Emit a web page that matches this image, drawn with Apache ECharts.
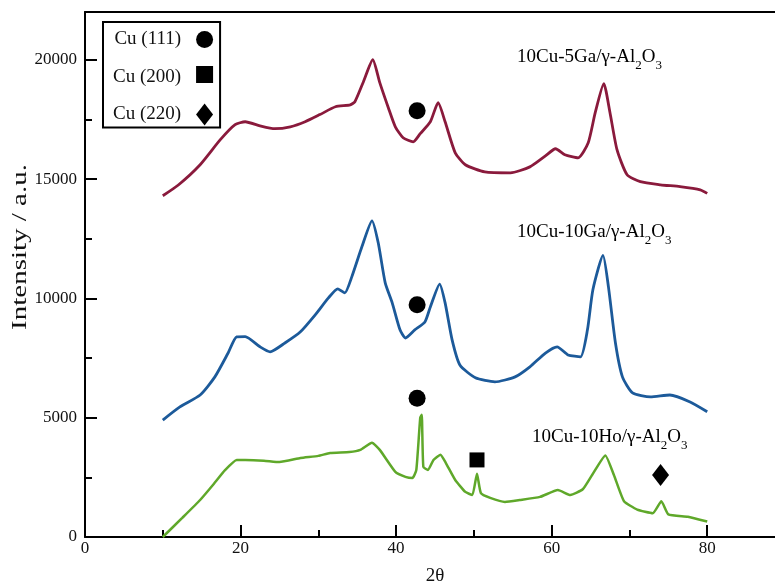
<!DOCTYPE html>
<html><head><meta charset="utf-8">
<script src="https://cdn.jsdelivr.net/npm/echarts@6/dist/echarts.min.js"></script>
<style>html,body{margin:0;padding:0;background:#fff}#c{width:775px;height:581px}</style>
</head><body><div id="c"></div><script>
// ---- data ----
const seriesNames = ['10Cu-5Ga/γ-Al2O3', '10Cu-10Ga/γ-Al2O3', '10Cu-10Ho/γ-Al2O3'];
const seriesColors = ['#8a1a3c', '#1c5a9a', '#5fa82a'];

const ga5X = [10, 12, 14.8, 17.4, 19.3, 20.6, 22.5, 24.4, 26.4, 28.3, 30.2, 32.2, 34.1, 34.7, 35.8, 37.0, 37.9, 39.0, 39.9, 40.9, 42.2, 43.1, 44.4, 45.4, 46.3, 47.6, 48.9, 51.4, 54.7, 57.2, 59.2, 60.5, 61.7, 63.4, 64.7, 65.6, 66.7, 67.5, 68.4, 69.7, 71.4, 74.0, 76.5, 79.1, 80];
const ga5Y = [14300, 14750, 15600, 16650, 17280, 17400, 17230, 17110, 17190, 17400, 17700, 18030, 18110, 18240, 19080, 20000, 19040, 17990, 17190, 16730, 16560, 16900, 17400, 18200, 17400, 16100, 15600, 15300, 15260, 15510, 15970, 16270, 16020, 15890, 16520, 17780, 19000, 17780, 16230, 15180, 14890, 14760, 14680, 14550, 14400];

const ga10X = [10, 12.2, 14.8, 16.7, 18.4, 19.5, 20.6, 22.5, 23.8, 25.7, 27.7, 29.6, 31.3, 32.5, 33.4, 34.3, 35.6, 36.9, 37.7, 38.6, 39.5, 40.5, 41.2, 42.4, 43.7, 44.4, 45.6, 46.3, 47.2, 48.2, 50.2, 52.7, 55.3, 57.2, 59.2, 60.7, 62.1, 63.7, 64.6, 65.3, 66.6, 67.3, 68.2, 69.1, 70.4, 72.7, 75.2, 77.8, 80];
const ga10Y = [4900, 5450, 5950, 6710, 7710, 8390, 8400, 7970, 7760, 8130, 8600, 9310, 10020, 10400, 10230, 10900, 12160, 13250, 12330, 10650, 9810, 8680, 8340, 8680, 9010, 9640, 10600, 9810, 8260, 7210, 6670, 6500, 6710, 7130, 7710, 7970, 7630, 7550, 8680, 10360, 11800, 10480, 8130, 6710, 6040, 5870, 5950, 5660, 5250];

const ho10X = [10, 12.5, 14.8, 16.5, 18, 19.5, 20.6, 23, 25, 27.7, 30, 31.5, 34, 35.4, 36.9, 37.9, 39.9, 41.2, 42.1, 42.6, 43.1, 43.3, 43.5, 44.1, 44.8, 45.7, 46.4, 47.6, 48.9, 49.8, 50.4, 50.9, 52.1, 54.0, 55.9, 58.5, 60.8, 62.4, 64, 65.2, 66.9, 68, 69.3, 71, 73, 74.1, 75, 77.5, 80];
const ho10Y = [0, 800, 1550, 2200, 2800, 3230, 3230, 3200, 3140, 3310, 3400, 3520, 3560, 3650, 3950, 3650, 2730, 2520, 2470, 2810, 4990, 5120, 2940, 2810, 3230, 3450, 3100, 2390, 1890, 1760, 2650, 1840, 1640, 1470, 1550, 1680, 1970, 1760, 2000, 2600, 3420, 2600, 1500, 1150, 1000, 1500, 950, 850, 650];

const markerNames = ['Cu (111)', 'Cu (200)', 'Cu (220)'];
const cu111Pts = [[42.7, 17860], [42.7, 9730], [42.7, 5815]];
const cu200Pts = [[50.4, 3230]];
const cu220Pts = [[74.0, 2600]];

const xTickLabels = [0, 20, 40, 60, 80];
const yTickLabels = [0, 5000, 10000, 15000, 20000];

// ---- chart ----
const FONT = "'Liberation Serif', 'DejaVu Serif', serif";
const zip = (xs, ys) => xs.map((x, i) => [x, ys[i]]);
const chart = echarts.init(document.getElementById('c'), null, {renderer: 'canvas'});

const axisLine = {show: true, lineStyle: {color: '#000', width: 2}};
const sub = (main) => ({
  a: {fontFamily: FONT, fontSize: 19, lineHeight: 24, verticalAlign: 'top', color: main},
  s: {fontFamily: FONT, fontSize: 13, lineHeight: 10, verticalAlign: 'bottom', color: main}
});
function richName(n) {
  const base = n.replace('Al2O3', '');
  return '{a|' + base + 'Al}{s|2}{a|O}{s|3}';
}

const option = {
  animation: false,
  backgroundColor: '#fff',
  grid: {left: 85, right: -10, top: 12, bottom: 44, containLabel: false, outerBoundsMode: 'none'},
  xAxis: [
    {type: 'value', min: 0, max: 90, interval: 20, position: 'bottom',
     axisLine, splitLine: {show: false},
     axisTick: {show: true, inside: true, length: 12, lineStyle: {color: '#000', width: 2}},
     axisLabel: {margin: 3, color: '#111', fontFamily: FONT, fontSize: 17,
       formatter: v => xTickLabels.includes(v) ? String(v) : ''},
     name: '2θ', nameLocation: 'middle', nameGap: 30,
     nameTextStyle: {fontFamily: FONT, fontSize: 19, color: '#111'}},
    {type: 'value', min: 0, max: 90, interval: 10, position: 'bottom',
     axisLine: {show: false}, splitLine: {show: false}, axisLabel: {show: false},
     axisTick: {show: true, inside: true, length: 7, lineStyle: {color: '#000', width: 2}}},
    {type: 'value', min: 0, max: 90, position: 'top',
     axisLine, splitLine: {show: false}, axisLabel: {show: false}, axisTick: {show: false}}
  ],
  yAxis: [
    {type: 'value', min: 0, max: 22000, interval: 5000, position: 'left',
     axisLine, splitLine: {show: false},
     axisTick: {show: true, inside: true, length: 12, lineStyle: {color: '#000', width: 2}},
     axisLabel: {margin: 8, color: '#111', fontFamily: FONT, fontSize: 17,
       formatter: v => yTickLabels.includes(v) ? String(v) : ''}},
    {type: 'value', min: 0, max: 22000, interval: 2500, position: 'left',
     axisLine: {show: false}, splitLine: {show: false}, axisLabel: {show: false},
     axisTick: {show: true, inside: true, length: 7, lineStyle: {color: '#000', width: 2}}}
  ],
  legend: {
    data: [
      {name: markerNames[0], icon: 'circle'},
      {name: markerNames[1], icon: 'square'},
      {name: markerNames[2], icon: 'diamond'}
    ],
    orient: 'vertical', left: 103, top: 22, align: 'right',
    itemWidth: 17, itemHeight: 22, itemGap: 17,
    padding: [8, 7, 2, 10],
    borderColor: '#000', borderWidth: 2, backgroundColor: '#fff',
    selectedMode: false,
    itemStyle: {opacity: 1, color: '#000'},
    textStyle: {fontFamily: FONT, fontSize: 19, color: '#111', padding: [0, 10, 0, 0]}
  },
  graphic: [
    {type: 'text', x: 20, y: 247, rotation: Math.PI / 2, scaleX: 1.38,
     style: {text: 'Intensity / a.u.', align: 'center', verticalAlign: 'middle',
       font: "21px 'Liberation Serif'", fill: '#111'}},
    {type: 'text', x: 517, y: 48, style: {text: richName(seriesNames[0]), rich: sub(seriesColors[0]), align: 'left', verticalAlign: 'top'}},
    {type: 'text', x: 517, y: 223, style: {text: richName(seriesNames[1]), rich: sub(seriesColors[1]), align: 'left', verticalAlign: 'top'}},
    {type: 'text', x: 532, y: 428, style: {text: richName(seriesNames[2]), rich: sub(seriesColors[2]), align: 'left', verticalAlign: 'top'}}
  ],
  series: [
    {name: seriesNames[0], type: 'line', data: zip(ga5X, ga5Y), showSymbol: false, symbol: 'none', smooth: 0.2,
     lineStyle: {color: seriesColors[0], width: 2.8}, itemStyle: {color: seriesColors[0]}},
    {name: seriesNames[1], type: 'line', data: zip(ga10X, ga10Y), showSymbol: false, symbol: 'none', smooth: 0.2,
     lineStyle: {color: seriesColors[1], width: 2.8}, itemStyle: {color: seriesColors[1]}},
    {name: seriesNames[2], type: 'line', data: zip(ho10X, ho10Y), showSymbol: false, symbol: 'none', smooth: 0.15,
     lineStyle: {color: seriesColors[2], width: 2.5}, itemStyle: {color: seriesColors[2]}},
    {name: markerNames[0], type: 'scatter', data: cu111Pts, symbol: 'circle', symbolSize: 17,
     itemStyle: {color: '#000', opacity: 1}, z: 5},
    {name: markerNames[1], type: 'scatter', data: cu200Pts, symbol: 'rect', symbolSize: 15,
     itemStyle: {color: '#000', opacity: 1}, z: 5},
    {name: markerNames[2], type: 'scatter', data: cu220Pts, symbol: 'diamond', symbolSize: [17, 22],
     itemStyle: {color: '#000', opacity: 1}, z: 5}
  ]
};
chart.setOption(option);
</script></body></html>
